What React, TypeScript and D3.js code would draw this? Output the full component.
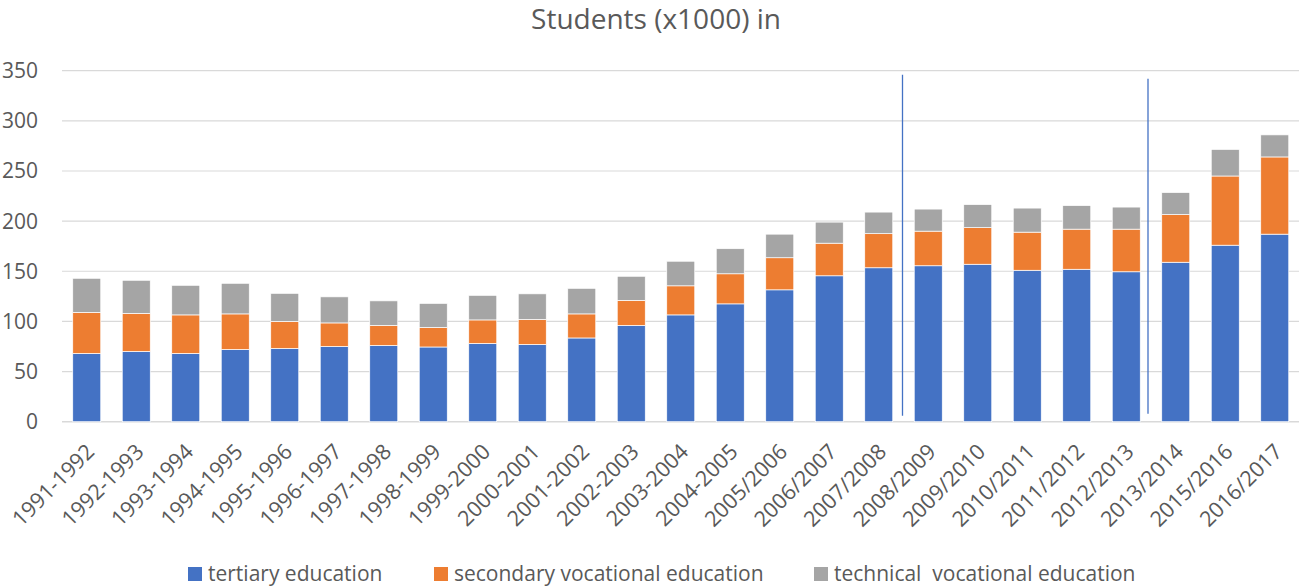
import React from "react";
import * as d3 from "d3";

const years = [
  "1991-1992", "1992-1993", "1993-1994", "1994-1995", "1995-1996", "1996-1997",
  "1997-1998", "1998-1999", "1999-2000", "2000-2001", "2001-2002", "2002-2003",
  "2003-2004", "2004-2005", "2005/2006", "2006/2007", "2007/2008", "2008/2009",
  "2009/2010", "2010/2011", "2011/2012", "2012/2013", "2013/2014", "2015/2016",
  "2016/2017"
];
const tertiary = [68, 70, 68, 72, 73, 75, 76, 74.5, 78, 77, 83.5, 96, 106.5, 117.5, 131.5, 145.5, 153.5, 155.5, 157, 151, 152, 149.5, 159, 176, 187];
const secondaryVoc = [41, 38, 38.5, 35.5, 27, 23.5, 20, 19.5, 23.5, 25, 24, 25, 29, 30, 32, 32.5, 34, 34.5, 36.5, 38, 40, 42.5, 47.5, 69, 77];
const technicalVoc = [34, 33, 29.5, 30.5, 28, 26, 24.5, 24, 24.5, 25.5, 25.5, 24, 24.5, 25, 23.5, 21, 21.5, 22, 23, 24, 23.5, 22, 22, 26.5, 22];
const yTicks = [0, 50, 100, 150, 200, 250, 300, 350];
const seriesNames = ["tertiary education", "secondary vocational education", "technical  vocational education"];
const colors = ["#4472C4", "#ED7D31", "#A5A5A5"];
// vertical marker lines drawn between two periods
const markers = [
  { after: "2007/2008", top: 346, bottom: 6, shift: -1 },
  { after: "2012/2013", top: 342, bottom: 8, shift: -3 }
];

const W = 1299;
const H = 587;
const FONT = "'Open Sans', sans-serif";

export default function App() {
  const x = d3.scaleBand().domain(years).range([62, 1299.5]).paddingInner(0.434).paddingOuter(0.217);
  const y = d3.scaleLinear().domain([0, 350]).range([421.7, 70.7]);

  const rows = years.map((yr, i) => ({
    year: yr,
    tertiary: tertiary[i],
    secondary: secondaryVoc[i],
    technical: technicalVoc[i]
  }));
  const stack = d3.stack<any>().keys(["tertiary", "secondary", "technical"])(rows);
  const step = x.step();
  const legendX = [188, 434, 814];

  return (
    <svg width={W} height={H} style={{ position: "absolute", left: 0, top: 0, background: "#fff" }}>
      <text x={656} y={29} textAnchor="middle" fontFamily={FONT} fontSize={28} fill="#595959">
        Students (x1000) in
      </text>
      {yTicks.map(t => (
        <g key={t}>
          <line x1={62} x2={1299} y1={y(t)} y2={y(t)} stroke="#d9d9d9" strokeWidth={t === 0 ? 1.5 : 1.2} />
          <text x={38} y={y(t) + 7.5} textAnchor="end" fontFamily={FONT} fontSize={21} fill="#595959">
            {t}
          </text>
        </g>
      ))}
      {stack.map((s, si) => (
        <g key={si} fill={colors[si]}>
          {s.map((d, i) => (
            <rect
              key={i}
              x={x(years[i])}
              width={x.bandwidth()}
              y={y(d[1])}
              height={y(d[0]) - y(d[1])}
              stroke="#ffffff"
              strokeWidth={0.7}
            />
          ))}
        </g>
      ))}
      {markers.map((m, i) => {
        const mx = (x(m.after) as number) + x.bandwidth() + (step - x.bandwidth()) / 2 + m.shift;
        return <line key={i} x1={mx} x2={mx} y1={y(m.top)} y2={y(m.bottom)} stroke="#4472C4" strokeWidth={1.3} />;
      })}
      {years.map(yr => {
        const cx = (x(yr) as number) + x.bandwidth() / 2;
        return (
          <text
            key={yr}
            transform={`translate(${cx + 9},${453}) rotate(-45)`}
            textAnchor="end"
            fontFamily={FONT}
            fontSize={21.5}
            fill="#595959"
          >
            {yr}
          </text>
        );
      })}
      {seriesNames.map((n, i) => (
        <g key={n}>
          <rect x={legendX[i]} y={567} width={14} height={14} fill={colors[i]} />
          <text x={legendX[i] + 20} y={581} fontFamily={FONT} fontSize={21} fill="#595959" style={{ whiteSpace: "pre" }}>
            {n}
          </text>
        </g>
      ))}
    </svg>
  );
}
